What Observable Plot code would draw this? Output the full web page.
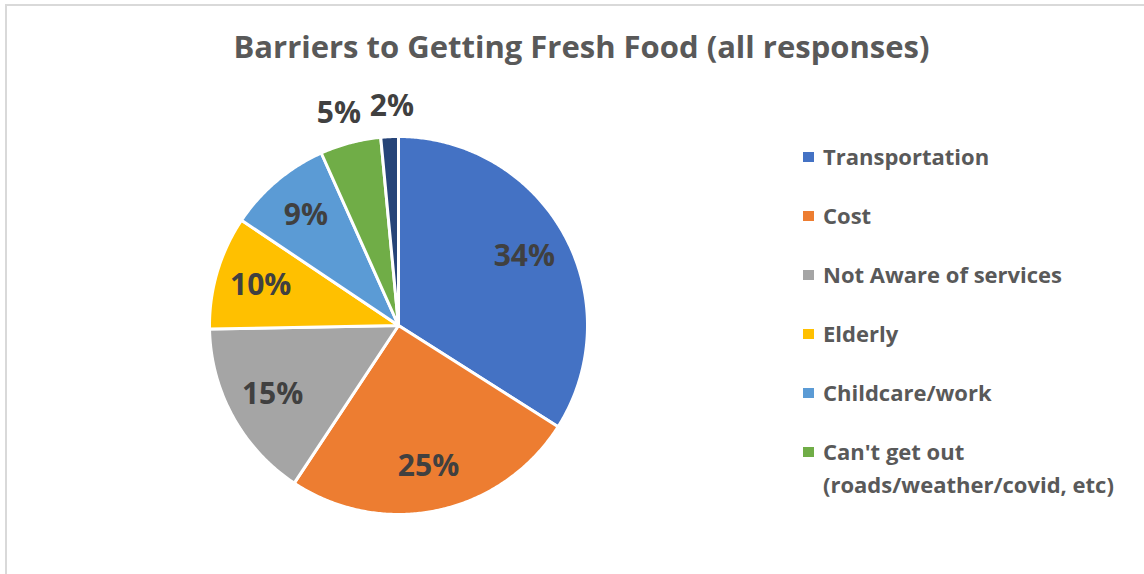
<!DOCTYPE html>
<html>
<head>
<meta charset="utf-8">
<script src="https://cdn.jsdelivr.net/npm/d3@7"></script>
<script src="https://cdn.jsdelivr.net/npm/@observablehq/plot@0.6"></script>
<style>
  html, body { margin: 0; padding: 0; background: #fff; }
  #wrap { position: relative; width: 1144px; height: 574px; overflow: hidden; font-family: "Open Sans", sans-serif; }
  #frame { position: absolute; left: 5px; top: 4px; width: 1300px; height: 800px; border-left: 2px solid #d9d9d9; border-top: 2px solid #d9d9d9; box-sizing: border-box; }
  #chart { position: absolute; left: 0; top: 0; }
  .item { position: absolute; left: 803px; display: flex; align-items: flex-start; }
  .sw { width: 10.5px; height: 10.5px; margin-top: 11.5px; margin-right: 9.5px; flex: none; }
  .lt { font-size: 22px; font-weight: 700; line-height: 33px; color: #595959; width: 320px; }
</style>
</head>
<body>
<div id="wrap">
  <div id="frame"></div>
  <div id="chart"></div>
</div>
<script>
// ---- data ----
const title = "Barriers to Getting Fresh Food (all responses)";
const categories = ["Transportation", "Cost", "Not Aware of services", "Elderly", "Childcare/work", "Can't get out (roads/weather/covid, etc)", "Other"];
const shares = [34.0, 25.3, 15.4, 9.7, 8.9, 5.2, 1.5];
const colors = ["#4472C4", "#ED7D31", "#A5A5A5", "#FFC000", "#5B9BD5", "#70AD47", "#264478"];
const legendCategories = categories.slice(0, 6);

const cx = 398, cy = 325, R = 189;

// ---- geometry (derived from data) ----
const total = d3.sum(shares);
const slicePts = [];
const labels = [];
let acc = 0;
categories.forEach((cat, i) => {
  const a0 = acc / total * 2 * Math.PI;
  acc += shares[i];
  const a1 = acc / total * 2 * Math.PI;
  slicePts.push({cat, x: 0, y: 0});
  const n = Math.max(2, Math.ceil((a1 - a0) / (Math.PI / 360)));
  for (let k = 0; k <= n; k++) {
    const a = a0 + (a1 - a0) * k / n;
    slicePts.push({cat, x: Math.sin(a), y: Math.cos(a)});
  }
  slicePts.push({cat, x: 0, y: 0});
  const am = (a0 + a1) / 2;
  const outside = shares[i] < 6;
  const r = outside ? 1.16 : 0.76;
  labels.push({cat, outside, x: r * Math.sin(am), y: r * Math.cos(am), text: Math.round(shares[i]) + "%"});
});
// keep neighbouring outside labels from overlapping
const minGap = 53 / R;
const outs = labels.filter(d => d.outside).sort((a, b) => a.x - b.x);
for (let k = 1; k < outs.length; k++) {
  const gap = outs[k].x - outs[k - 1].x;
  if (gap < minGap) {
    const push = (minGap - gap) / 2;
    outs[k].x += push;
    outs[k - 1].x -= push;
  }
}

const chart = Plot.plot({
  width: 1144,
  height: 574,
  margin: 0,
  style: {fontFamily: "Open Sans, sans-serif", background: "transparent"},
  x: {domain: [-1, 1], range: [cx - R, cx + R], axis: null},
  y: {domain: [-1, 1], range: [cy + R, cy - R], axis: null},
  color: {domain: categories, range: colors},
  marks: [
    Plot.line(slicePts, {x: "x", y: "y", z: "cat", fill: "cat", stroke: "white", strokeWidth: 3, strokeLinejoin: "round"}),
    Plot.text(labels, {x: "x", y: "y", text: "text", fill: "#404040", fontSize: 30, fontWeight: "bold", fontFamily: "Open Sans"}),
    Plot.text([title], {frameAnchor: "top", lineAnchor: "top", dx: 9, dy: 35, fill: "#595959", fontSize: 31, fontWeight: "bold", fontFamily: "Open Sans"})
  ]
});
document.getElementById("chart").appendChild(chart);

// ---- legend ----
const wrap = document.getElementById("wrap");
legendCategories.forEach((cat, i) => {
  const item = document.createElement("div");
  item.className = "item";
  item.style.top = (140 + i * 59) + "px";
  const sw = document.createElement("div");
  sw.className = "sw";
  sw.style.background = colors[categories.indexOf(cat)];
  const lt = document.createElement("div");
  lt.className = "lt";
  lt.textContent = cat;
  item.appendChild(sw);
  item.appendChild(lt);
  wrap.appendChild(item);
});
</script>
</body>
</html>
